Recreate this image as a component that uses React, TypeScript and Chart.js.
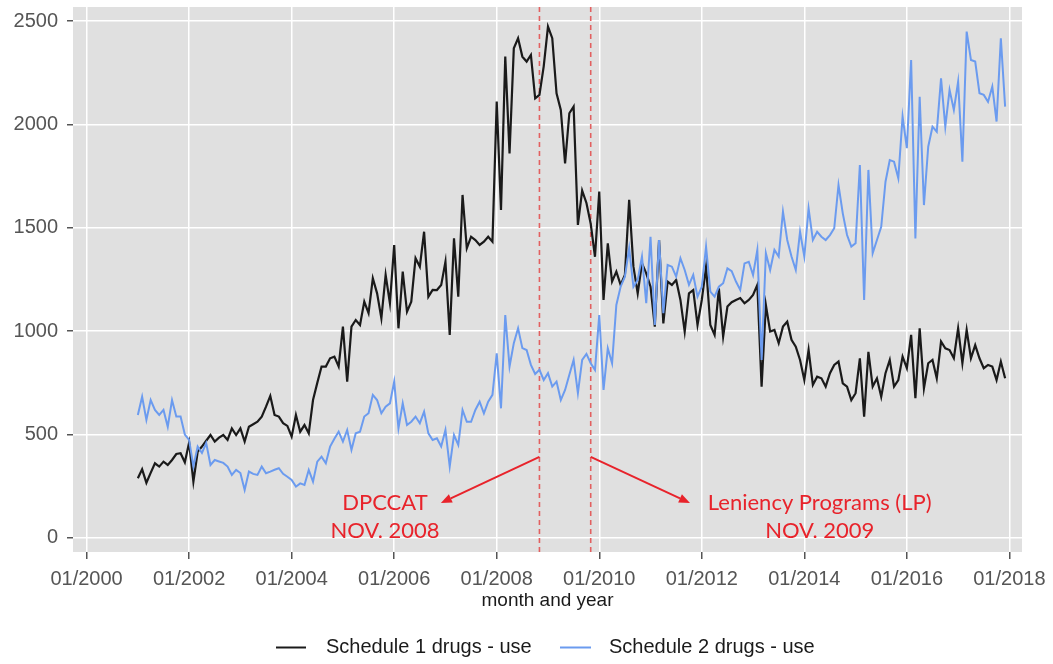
import React, { useEffect, useRef } from 'react';
import { Chart, registerables } from 'chart.js';

Chart.register(...registerables);

// ---- data (monthly, Jan 2001 .. Dec 2017) ----
const START_YEAR = 2001;

const schedule1: number[] = [
  289, 332, 267, 315, 361, 345, 369, 353, 377, 406, 410, 366,
  461, 272, 417, 442, 470, 498, 466, 485, 498, 474, 530, 498,
  530, 466, 538, 550, 562, 587, 635, 687, 595, 587, 555, 542,
  490, 595, 514, 546, 506, 667, 750, 829, 829, 869, 877, 829,
  1022, 756, 1022, 1054, 1030, 1143, 1087, 1256, 1183, 1062, 1272, 1135,
  1417, 1014, 1288, 1094, 1143, 1353, 1312, 1481, 1167, 1200, 1199, 1223,
  1336, 982, 1449, 1167, 1659, 1401, 1457, 1441, 1417, 1433, 1457, 1433,
  2111, 1586, 2328, 1860, 2368, 2417, 2328, 2304, 2336, 2126, 2143, 2281,
  2473, 2417, 2151, 2070, 1812, 2054, 2086, 1514, 1680, 1620, 1520, 1360,
  1675, 1151, 1425, 1240, 1288, 1224, 1272, 1635, 1312, 1183, 1328, 1280,
  1215, 1022, 1441, 1038, 1240, 1224, 1248, 1151, 998, 1183, 1199, 1030,
  1151, 1312, 1030, 982, 1207, 974, 1119, 1140, 1151, 1160, 1135, 1151,
  1175, 1224, 732, 1127, 998, 1006, 942, 1022, 1046, 958, 925, 861,
  764, 909, 740, 780, 772, 732, 797, 837, 853, 748, 732, 667,
  700, 869, 587, 900, 732, 772, 683, 797, 861, 732, 764, 877,
  821, 982, 676, 1014, 724, 845, 861, 772, 950, 917, 909, 869,
  1014, 845, 1006, 869, 933, 869, 821, 837, 829, 764, 853, 772,
];

const schedule2: number[] = [
  595, 683, 571, 667, 619, 595, 619, 538, 667, 587, 587, 500,
  474, 345, 442, 411, 459, 353, 377, 370, 363, 345, 305, 329,
  314, 232, 321, 310, 305, 345, 313, 321, 330, 337, 310, 296,
  280, 248, 264, 256, 329, 272, 369, 393, 361, 442, 480, 514,
  466, 522, 426, 506, 514, 587, 603, 692, 667, 603, 635, 651,
  756, 530, 651, 546, 562, 587, 555, 611, 506, 474, 482, 442,
  522, 345, 498, 450, 619, 562, 562, 619, 659, 603, 659, 692,
  893, 627, 1078, 829, 942, 1014, 918, 909, 837, 793, 813, 764,
  797, 732, 756, 667, 716, 789, 861, 700, 861, 890, 845, 813,
  1078, 716, 917, 845, 1127, 1215, 1264, 1401, 1215, 1248, 1361, 1135,
  1457, 1030, 1441, 1087, 1320, 1312, 1264, 1353, 1296, 1224, 1272, 1167,
  1215, 1409, 1191, 1167, 1215, 1232, 1304, 1290, 1240, 1200, 1328, 1336,
  1272, 1393, 861, 1377, 1296, 1393, 1361, 1578, 1441, 1361, 1296, 1481,
  1361, 1594, 1441, 1481, 1457, 1441, 1465, 1498, 1707, 1570, 1465, 1409,
  1425, 1804, 1151, 1780, 1377, 1441, 1505, 1723, 1828, 1820, 1740, 2038,
  1885, 2312, 1449, 2134, 1610, 1892, 1989, 1965, 2223, 1989, 2167, 2070,
  2207, 1820, 2449, 2312, 2304, 2151, 2143, 2110, 2183, 2014, 2417, 2086,
];

const seriesNames = ['Schedule 1 drugs - use', 'Schedule 2 drugs - use'];
const xTickYears = [2000, 2002, 2004, 2006, 2008, 2010, 2012, 2014, 2016, 2018];
const yTickValues = [0, 500, 1000, 1500, 2000, 2500];
const eventDates = [2008 + 10 / 12, 2009 + 10 / 12]; // Nov 2008, Nov 2009
const eventLabels = [
  ['DPCCAT', 'NOV. 2008'],
  ['Leniency Programs (LP)', 'NOV. 2009'],
];

// ---- styling / layout ----
const W = 1053;
const H = 664;
const AXIS_FONT = "'Liberation Sans', Arial, sans-serif";
const ANNOT_FONT = "Lato, 'Open Sans', sans-serif";
const BLACK = '#1a1a1a';
const BLUE = '#6b9bef';
const RED = '#e8232b';

// annotation geometry in data units (arrow start/end, text anchor)
const annotGeom = [
  { from: [eventDates[0], 392], to: [2006.91, 169], text: [2005.82, 169, 34] },
  { from: [eventDates[1], 392], to: [2011.77, 169], text: [2014.3, 169, 34] },
];

const toX = (i: number) => START_YEAR + i / 12;

const bgPlugin = {
  id: 'bgPlugin',
  beforeDraw(chart: any) {
    const { ctx, chartArea: a } = chart;
    ctx.save();
    ctx.fillStyle = '#ffffff';
    ctx.fillRect(0, 0, chart.width, chart.height);
    ctx.fillStyle = '#e0e0e0';
    ctx.fillRect(a.left, a.top, a.right - a.left, a.bottom - a.top);
    ctx.restore();
  },
  beforeDatasetsDraw(chart: any) {
    const { ctx, chartArea: a, scales } = chart;
    ctx.save();
    ctx.strokeStyle = '#e26060';
    ctx.lineWidth = 1.6;
    ctx.setLineDash([5, 4]);
    eventDates.forEach((d) => {
      const x = scales.x.getPixelForValue(d);
      ctx.beginPath();
      ctx.moveTo(x, a.top);
      ctx.lineTo(x, a.bottom);
      ctx.stroke();
    });
    ctx.restore();
  },
  afterDatasetsDraw(chart: any) {
    const { ctx, scales } = chart;
    const sx = scales.x;
    const sy = scales.y;
    ctx.save();
    annotGeom.forEach((g, k) => {
      const x1 = sx.getPixelForValue(g.from[0]);
      const y1 = sy.getPixelForValue(g.from[1]);
      const x2 = sx.getPixelForValue(g.to[0]);
      const y2 = sy.getPixelForValue(g.to[1]);
      const ang = Math.atan2(y2 - y1, x2 - x1);
      const headLen = 11;
      const headW = 4.5;
      const bx = x2 - headLen * Math.cos(ang);
      const by = y2 - headLen * Math.sin(ang);
      ctx.strokeStyle = RED;
      ctx.fillStyle = RED;
      ctx.lineWidth = 2;
      ctx.beginPath();
      ctx.moveTo(x1, y1);
      ctx.lineTo(bx, by);
      ctx.stroke();
      ctx.beginPath();
      ctx.moveTo(x2, y2);
      ctx.lineTo(bx + headW * Math.sin(ang), by - headW * Math.cos(ang));
      ctx.lineTo(bx - headW * Math.sin(ang), by + headW * Math.cos(ang));
      ctx.closePath();
      ctx.fill();

      ctx.font = `22px ${ANNOT_FONT}`;
      ctx.textAlign = 'center';
      ctx.textBaseline = 'middle';
      const tx = sx.getPixelForValue(g.text[0]);
      ctx.fillText(eventLabels[k][0], tx, sy.getPixelForValue(g.text[1]));
      ctx.fillText(eventLabels[k][1], tx, sy.getPixelForValue(g.text[2]));
    });
    ctx.restore();
  },
  afterDraw(chart: any) {
    const { ctx } = chart;
    const y = 647;
    const items = [
      { color: BLACK, x1: 276, x2: 306, tx: 326, text: seriesNames[0] },
      { color: BLUE, x1: 560, x2: 591, tx: 609, text: seriesNames[1] },
    ];
    ctx.save();
    ctx.font = `20px ${AXIS_FONT}`;
    ctx.textAlign = 'left';
    ctx.textBaseline = 'middle';
    items.forEach((it) => {
      ctx.strokeStyle = it.color;
      ctx.lineWidth = 2;
      ctx.beginPath();
      ctx.moveTo(it.x1, y + 0.5);
      ctx.lineTo(it.x2, y + 0.5);
      ctx.stroke();
      ctx.fillStyle = BLACK;
      ctx.fillText(it.text, it.tx, y);
    });
    ctx.restore();
  },
};

export default function App() {
  const ref = useRef<HTMLCanvasElement | null>(null);

  useEffect(() => {
    if (!ref.current) return;
    const chart = new Chart(ref.current, {
      type: 'line',
      data: {
        datasets: [
          {
            label: seriesNames[0],
            data: schedule1.map((v, i) => ({ x: toX(i), y: v })),
            borderColor: BLACK,
            borderWidth: 2.2,
            pointRadius: 0,
            tension: 0,
            order: 1,
          },
          {
            label: seriesNames[1],
            data: schedule2.map((v, i) => ({ x: toX(i), y: v })),
            borderColor: BLUE,
            borderWidth: 2,
            pointRadius: 0,
            tension: 0,
            order: 0,
          },
        ],
      },
      options: {
        responsive: false,
        animation: false,
        events: [],
        layout: { padding: { left: 0, top: 7, right: 31, bottom: 0 } },
        plugins: {
          legend: { display: false },
          tooltip: { enabled: false },
        },
        scales: {
          x: {
            type: 'linear',
            min: 1999.735,
            max: 2018.246,
            afterBuildTicks: (s: any) => {
              s.ticks = xTickYears.map((v) => ({ value: v }));
            },
            afterFit: (s: any) => {
              s.height = H - 552;
              s.paddingLeft = 0;
              s.paddingRight = 0;
            },
            border: { display: false },
            grid: { color: '#ffffff', lineWidth: 1.5, tickColor: '#555555', tickLength: 7, drawTicks: true },
            ticks: {
              autoSkip: false,
              maxRotation: 0,
              padding: 8,
              color: '#555555',
              font: { family: AXIS_FONT, size: 20 },
              callback: (v: any) => `01/${v}`,
            },
            title: {
              display: true,
              text: 'month and year',
              color: BLACK,
              font: { family: AXIS_FONT, size: 19 },
              padding: { top: 0, bottom: 52 },
            },
          },
          y: {
            type: 'linear',
            min: -68,
            max: 2568,
            afterBuildTicks: (s: any) => {
              s.ticks = yTickValues.map((v) => ({ value: v }));
            },
            afterFit: (s: any) => {
              s.width = 73;
              s.paddingTop = 0;
              s.paddingBottom = 0;
            },
            border: { display: false },
            grid: { color: '#ffffff', lineWidth: 1.5, tickColor: '#555555', tickLength: 6, drawTicks: true },
            ticks: {
              padding: 9,
              color: '#555555',
              font: { family: AXIS_FONT, size: 20 },
              callback: (v: any) => String(v),
            },
          },
        },
      },
      plugins: [bgPlugin],
    } as any);
    return () => chart.destroy();
  }, []);

  return (
    <div style={{ position: 'absolute', left: 0, top: 0, width: W, height: H, background: '#fff' }}>
      <canvas ref={ref} width={W} height={H} style={{ display: 'block' }} />
    </div>
  );
}
